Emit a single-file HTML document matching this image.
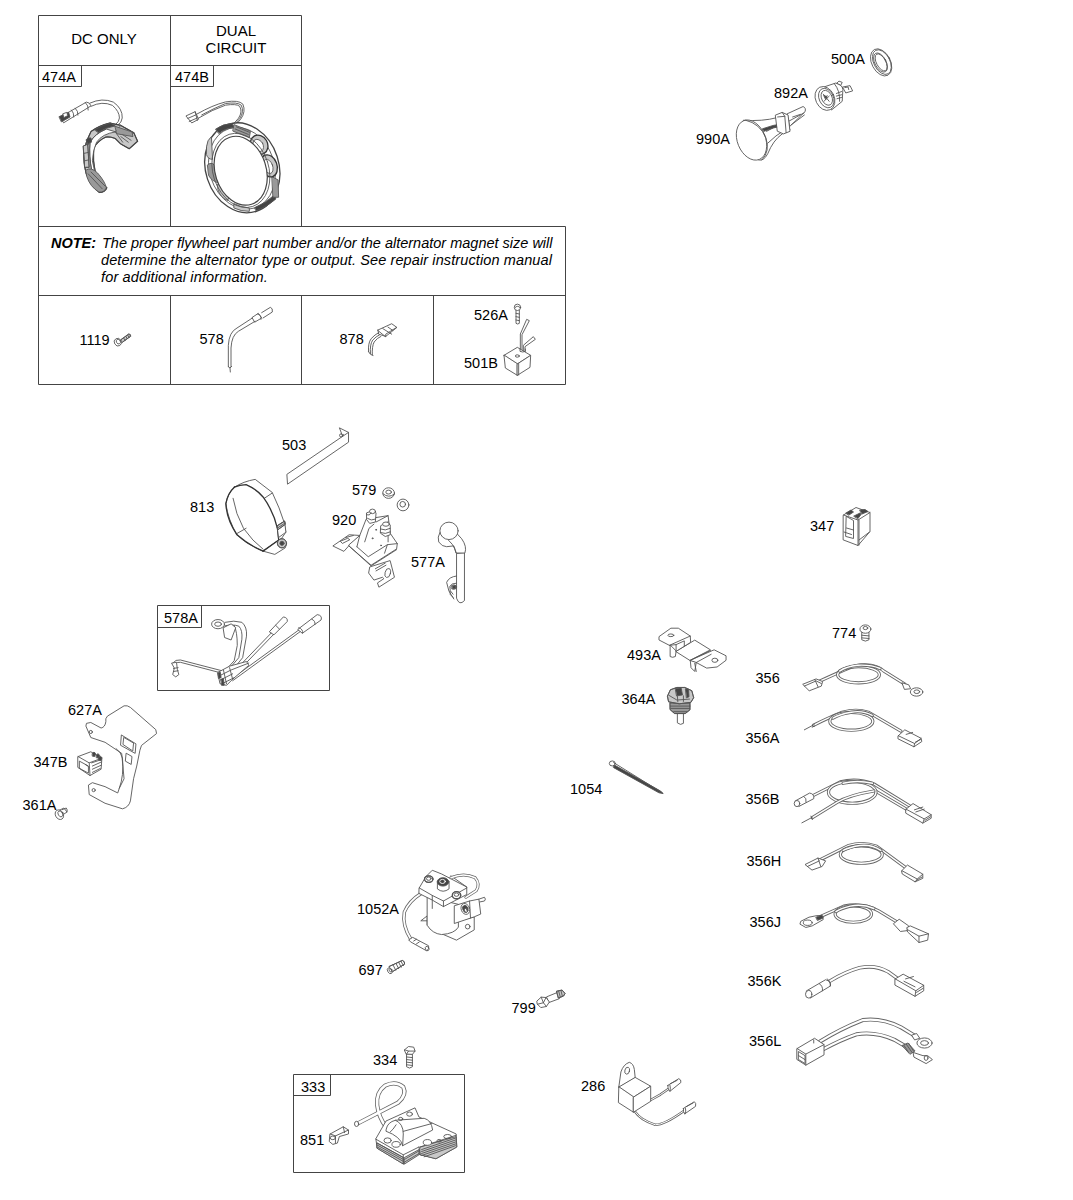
<!DOCTYPE html>
<html><head><meta charset="utf-8"><style>
html,body{margin:0;padding:0;background:#fff;}
svg{display:block;}
text{font-family:"Liberation Sans",sans-serif;fill:#000;}
.l{font-size:14.5px;}
.b{fill:none;stroke:#444;stroke-width:1;}
.d,.f,.k,.g,.h{stroke:#555;stroke-width:0.9;stroke-linejoin:round;stroke-linecap:round;vector-effect:non-scaling-stroke;}
.d{fill:none;}
.f{fill:#fff;}
.k{fill:#444;}
.g{fill:#999;}
.h{fill:#c8c8c8;}
.wo{fill:none;stroke:#666;stroke-width:3.2;stroke-linecap:round;stroke-linejoin:round;vector-effect:non-scaling-stroke;}
.wi{fill:none;stroke:#fff;stroke-width:1.4;stroke-linecap:round;stroke-linejoin:round;vector-effect:non-scaling-stroke;}
</style></head><body>
<svg width="1073" height="1200" viewBox="0 0 1073 1200">
<g id="table">
<path class="b" d="M38.5 15.5H301.5V226.5M38.5 15.5V384.5H565.5V226.5H38.5M170.5 15.5V226.5M38.5 65.5H301.5M38.5 295.5H565.5M170.5 295.5V384.5M301.5 295.5V384.5M433.5 295.5V384.5M38.5 86.5H81.5V65.5M170.5 86.5H213.5V65.5"/>
<text x="104" y="44" font-size="15" text-anchor="middle">DC ONLY</text>
<text x="236" y="36" font-size="15" text-anchor="middle">DUAL</text>
<text x="236" y="52.5" font-size="15" text-anchor="middle">CIRCUIT</text>
<text class="l" x="42" y="82">474A</text>
<text class="l" x="175" y="81.5">474B</text>
<text x="51" y="247.5" font-size="14.5" font-style="italic" font-weight="bold">NOTE:</text>
<text x="102" y="247.5" font-size="14.5" font-style="italic">The proper flywheel part number and/or the alternator magnet size will</text>
<text x="101" y="264.5" font-size="14.5" font-style="italic" letter-spacing="0.11">determine the alternator type or output. See repair instruction manual</text>
<text x="101" y="281.5" font-size="14.5" font-style="italic" letter-spacing="0.15">for additional information.</text>
<text class="l" x="79.5" y="345">1119</text>
<text class="l" x="199.5" y="343.5">578</text>
<text class="l" x="339.5" y="343.5">878</text>
<text class="l" x="474" y="320">526A</text>
<text class="l" x="464" y="368">501B</text>
</g>
<g id="labels">
<text class="l" x="831" y="64">500A</text>
<text class="l" x="774" y="97.5">892A</text>
<text class="l" x="696" y="143.5">990A</text>
<text class="l" x="282" y="449.5">503</text>
<text class="l" x="190" y="512">813</text>
<text class="l" x="352" y="494.5">579</text>
<text class="l" x="332" y="525">920</text>
<text class="l" x="411" y="566.5">577A</text>
<text class="l" x="164" y="623">578A</text>
<text class="l" x="68" y="714.5">627A</text>
<text class="l" x="33.5" y="767">347B</text>
<text class="l" x="22.5" y="810">361A</text>
<text class="l" x="810" y="531">347</text>
<text class="l" x="832" y="637.5">774</text>
<text class="l" x="627" y="660">493A</text>
<text class="l" x="755.5" y="682.5">356</text>
<text class="l" x="621.5" y="704">364A</text>
<text class="l" x="745.5" y="743">356A</text>
<text class="l" x="570" y="793.5">1054</text>
<text class="l" x="745.5" y="804">356B</text>
<text class="l" x="746.5" y="865.5">356H</text>
<text class="l" x="749.5" y="926.5">356J</text>
<text class="l" x="747.5" y="985.5">356K</text>
<text class="l" x="749" y="1045.5">356L</text>
<text class="l" x="357" y="914">1052A</text>
<text class="l" x="358.5" y="974.5">697</text>
<text class="l" x="511.5" y="1013">799</text>
<text class="l" x="373" y="1065">334</text>
<text class="l" x="301" y="1091.5">333</text>
<text class="l" x="300" y="1145">851</text>
<text class="l" x="581" y="1090.5">286</text>
</g>
<g id="boxes">
<path class="b" d="M157.5 605.5H329.5V690.5H157.5ZM157.5 627.5H201.5V605.5"/>
<path class="b" d="M293.5 1074.5H464.5V1172.5H293.5ZM293.5 1095.5H330.5V1074.5"/>
</g>
<g transform="translate(50,90) scale(0.0932)">
<path class="d" d="M430 140 Q560 80 680 130 Q780 200 775 300 Q770 350 730 375 M440 175 Q560 115 670 165 Q745 230 745 300 Q740 340 710 365"/>
<path class="f" d="M110 290 L390 130 Q425 130 440 170 L150 350 Z"/>
<path class="d" d="M270 195 Q305 225 300 270 M380 135 Q415 165 410 215 M230 215 Q260 245 255 290"/>
<path class="k" d="M100 285 L200 240 L215 290 L125 340 Z"/>
<path class="f" d="M140 255 L180 240 L190 275 L150 295 Z" style="fill:#fff"/>
<path class="h" d="M640 355 Q520 385 440 445 Q395 530 365 640 Q360 800 390 900 Q440 1030 530 1100 Q590 1100 610 1050 Q540 1000 490 900 Q455 760 470 620 Q520 540 600 505 Q650 500 700 520 L760 580 L850 630 L940 550 L900 460 L760 380 Z"/>
<path class="d" d="M640 355 Q520 385 440 445 Q395 530 365 640 Q360 800 390 900 Q440 1030 530 1100 Q590 1100 610 1050 Q540 1000 490 900 Q455 760 470 620 Q520 540 600 505 Q650 500 700 520 L760 580 L850 630 L940 550 L900 460 L760 380 Z" style="stroke:#444;stroke-width:1.2"/>
<path class="f" d="M600 420 Q480 470 430 560 Q415 700 450 880 Q490 970 560 1020 L520 960 Q470 880 455 760 Q460 640 500 560 Q560 470 700 450 Z"/>
<path class="d" d="M600 420 Q480 470 430 560 Q415 700 450 880 Q490 970 560 1020 M700 450 L760 380 M700 450 L780 560 M760 470 L900 460"/>
<path class="k" d="M480 425 Q570 370 650 355 L700 385 Q600 400 520 455 Z"/>
<path class="g" d="M700 390 L880 450 L890 500 L720 470 Z"/>
<path class="d" d="M760 500 L840 560 M780 480 L870 540"/>
<path class="g" d="M385 860 Q440 820 510 890 Q590 980 605 1050 Q580 1100 525 1095 Q430 1040 395 930 Z"/>
<path class="d" d="M410 900 L560 1060 M440 880 L590 1030"/>
<path class="h" d="M360 600 L405 580 L420 830 L375 830 Z"/>
<path class="d" d="M360 600 L405 580 L420 830 L375 830 Z M365 680 L410 670 M370 760 L415 750"/>
<path class="k" d="M390 530 Q410 505 440 515 L445 560 Q420 560 405 590 Z"/>
</g>
<g transform="translate(180,90) scale(0.10837)">
<path class="d" d="M160 220 Q300 140 420 110 Q540 90 580 130 Q610 200 560 270 Q530 310 500 330 M170 260 Q300 180 420 140 Q520 125 550 150 Q580 200 540 260 Q510 300 480 320 M200 230 Q320 165 420 125 Q530 110 565 140 Q595 200 550 265 Q520 305 490 325"/>
<path class="f" d="M58 238 L140 200 L172 270 L112 302 Z"/>
<path class="d" d="M72 262 L150 228 M140 200 L160 280 M85 290 L160 258"/>
<ellipse class="f" cx="575" cy="718" rx="338" ry="422" transform="rotate(-18 575 718)" style="stroke:#444;stroke-width:1.3"/>
<ellipse class="d" cx="572" cy="722" rx="300" ry="385" transform="rotate(-18 572 722)"/>
<path class="h" d="M245 520 Q250 460 290 430 L300 640 Q260 640 245 600 Z"/>
<path class="g" d="M255 690 Q300 650 340 720 L360 860 Q290 840 265 790 Z"/>
<path class="h" d="M350 870 Q400 880 460 960 L440 1020 Q370 990 350 920 Z"/>
<path class="h" d="M500 1050 Q560 1080 640 1090 L640 1120 Q560 1120 500 1090 Z"/>
<path class="k" d="M690 1085 Q790 1045 870 970 L885 1005 Q810 1075 705 1115 Z"/>
<path class="g" d="M850 800 L905 830 L910 990 L860 990 Z"/>
<ellipse class="h" cx="820" cy="700" rx="75" ry="105" transform="rotate(-20 820 700)" style="stroke:#333;stroke-width:1.3"/>
<ellipse class="f" cx="815" cy="705" rx="40" ry="68" transform="rotate(-20 815 705)"/>
<ellipse class="h" cx="730" cy="505" rx="78" ry="92" transform="rotate(-30 730 505)" style="stroke:#333;stroke-width:1.3"/>
<ellipse class="f" cx="722" cy="512" rx="45" ry="60" transform="rotate(-30 722 512)"/>
<path class="k" d="M330 360 Q400 310 480 310 L500 345 Q420 350 360 400 Z"/>
<path class="g" d="M500 320 L650 380 L640 440 L490 380 Z"/>
<path class="d" d="M520 340 L640 390 M510 360 L630 410"/>
<ellipse class="f" cx="560" cy="745" rx="235" ry="325" transform="rotate(-18 560 745)" style="stroke:#444;stroke-width:1.2"/>
<ellipse class="d" cx="562" cy="742" rx="258" ry="350" transform="rotate(-18 562 742)"/>
</g>
<g transform="translate(105,325) scale(0.03727)">
<path class="h" d="M420 400 L640 240 L690 300 L470 460 Z"/>
<path class="d" d="M420 400 L640 240 Q700 240 690 300 L470 460 M500 350 L540 410 M560 310 L600 370 M610 275 L650 335"/>
<ellipse class="f" cx="345" cy="460" rx="95" ry="105" transform="rotate(-30 345 460)"/>
<ellipse class="d" cx="360" cy="445" rx="55" ry="65" transform="rotate(-30 360 445)"/>
</g>
<g transform="translate(215,300) scale(0.06667)">
<path class="d" d="M200 1000 L200 680 Q210 480 330 420 L560 270 M240 1000 L240 720 Q250 530 350 470 L600 320 M200 1000 L225 1020 L250 995 M225 1020 L230 1080"/>
<path class="d" d="M560 260 L650 200 L700 270 L600 330 Z M640 210 Q700 220 690 290"/>
<path class="d" d="M700 190 L830 110 Q870 120 860 180 L720 270"/>
</g>
<g transform="translate(360,320) scale(0.03728)">
<path class="d" d="M230 850 Q210 620 300 500 Q400 390 500 340 M280 900 Q260 660 340 540 Q430 440 520 400 M330 940 Q320 700 380 590 Q460 480 560 440 M230 850 L280 920 L350 950"/>
<path class="f" d="M480 270 L850 100 L990 200 L690 440 Z"/>
<path class="d" d="M610 230 L850 380 M690 440 L690 380 L980 200 M480 270 L500 380 L690 440 M750 190 L880 280"/>
</g>
<g transform="translate(500,300) scale(0.06667)">
<path class="f" d="M240 150 L240 350 Q265 370 290 350 L290 150 Z"/>
<path class="d" d="M240 200 L290 210 M240 250 L290 260 M240 300 L290 310"/>
<circle class="f" cx="262" cy="110" r="48"/>
<path class="d" d="M225 115 Q262 70 300 115"/>
<path class="d" d="M305 760 L305 510 L400 290 L440 310 L330 520 L330 760 M350 780 L350 680 L500 550 L530 590 L375 700 L375 780"/>
<path class="f" d="M60 830 L260 710 L460 830 L260 960 Z"/>
<path class="f" d="M60 830 L80 1020 L260 1130 L260 960 Z"/>
<path class="f" d="M260 960 L460 830 L450 1010 L260 1130 Z"/>
<path class="d" d="M280 955 L280 1125"/>
<ellipse class="d" cx="260" cy="840" rx="30" ry="18"/>
<path class="d" d="M300 735 L300 770 Q340 790 380 770 L380 735"/>
</g>
<g transform="translate(730,70) scale(0.13048)">
<path class="f" d="M440 335 L560 280 Q585 290 575 320 L460 430 Z"/>
<path class="d" d="M455 390 L565 330 M470 420 L570 345 M480 360 L540 340"/>
<path class="f" d="M105 385 Q250 395 360 365 L440 400 L460 460 L400 490 Q330 540 290 640 Q260 700 220 690 Z"/>
<path class="k" d="M250 450 Q330 420 410 410 L415 425 Q330 440 260 470 Z"/>
<path class="d" d="M290 560 Q350 500 420 460 M280 470 Q320 440 400 420"/>
<path class="f" d="M350 345 L400 325 L445 345 L460 470 L410 490 L365 470 Z"/>
<path class="d" d="M400 325 L420 355 L430 480 M365 360 L420 355"/>
<ellipse class="f" cx="165" cy="537" rx="108" ry="160" transform="rotate(-22 165 537)"/>
<path class="d" d="M120 385 Q230 410 275 520 Q310 620 245 690"/>
<path class="f" d="M690 140 L810 100 Q860 110 865 150 L860 240 L780 305 Z"/>
<path class="d" d="M800 105 Q845 160 840 240 M815 180 L855 165 M815 200 L855 190 M820 220 L855 210"/>
<path class="f" d="M820 100 L835 85 L860 95 L850 115 Z M865 130 L920 120 L940 160 L890 175 Z"/>
<path class="d" d="M880 135 L905 130 L910 150"/>
<ellipse class="f" cx="728" cy="218" rx="72" ry="95" transform="rotate(-25 728 218)"/>
<ellipse class="d" cx="738" cy="215" rx="55" ry="78" transform="rotate(-25 738 215)"/>
<ellipse class="d" cx="742" cy="213" rx="40" ry="60" transform="rotate(-25 742 213)"/>
<path class="d" d="M715 185 L760 240 M730 210 L745 195 M720 240 L760 200"/>
<path class="k" d="M720 195 L745 205 L735 225 Z"/>
</g>
<g transform="translate(820,40) scale(0.07457)">
<ellipse class="f" cx="820" cy="300" rx="125" ry="195" transform="rotate(-28 820 300)"/>
<ellipse class="d" cx="812" cy="302" rx="75" ry="140" transform="rotate(-28 812 302)"/>
<ellipse class="d" cx="830" cy="296" rx="108" ry="178" transform="rotate(-28 830 296)"/>
<ellipse class="d" cx="820" cy="300" rx="62" ry="125" transform="rotate(-28 820 300)"/>
</g>
<g transform="translate(220,420) scale(0.13048)">
<path class="f" d="M515 415 L940 125 L915 60 L985 95 L985 170 L520 490 Z"/>
<path class="d" d="M940 125 L985 95 M940 125 L945 110"/>
<circle class="d" cx="928" cy="118" r="12"/>
<path class="f" d="M110 515 Q180 470 270 455 L400 555 Q460 680 490 780 L505 860 L470 910 L510 950 L500 980 L420 1030 L330 1005 Q200 950 130 880 Q60 760 45 640 Q60 560 110 515 Z"/>
<path class="d" d="M100 600 Q120 720 180 830 Q250 930 330 990 M340 600 L400 560 M130 870 L200 830 M330 1005 L420 940 L470 910"/>
<path class="d" d="M110 515 Q60 560 45 640 Q50 760 130 880 Q220 960 330 1005" style="stroke:#333;stroke-width:1.3"/>
<path class="d" d="M110 515 Q150 495 200 495 Q280 530 330 590 Q410 700 440 830 L450 920 L330 1005" style="stroke:#333;stroke-width:1.3"/>
<path class="f" d="M440 810 L495 775 L505 860 L450 900 Z"/>
<path class="h" d="M440 810 L495 775 L500 800 L445 840 Z"/>
<path class="d" d="M440 810 L495 775 L500 800 L445 840 Z M445 825 L498 790"/>
<circle class="h" cx="475" cy="945" r="35"/>
<circle class="d" cx="475" cy="945" r="35"/>
<circle class="k" cx="475" cy="945" r="16"/>
</g>
<g transform="translate(325,470) scale(0.1398)">
<ellipse class="f" cx="455" cy="165" rx="42" ry="38"/>
<ellipse class="d" cx="455" cy="158" rx="20" ry="14"/>
<path class="d" d="M415 170 Q455 205 497 172"/>
<ellipse class="f" cx="558" cy="250" rx="42" ry="42"/>
<ellipse class="d" cx="556" cy="245" rx="20" ry="20"/>
</g>
<g transform="translate(330,505) scale(0.07085)">
<path class="f" d="M560 880 L545 960 L620 1060 L740 1020 L760 1040 L670 1100 L690 1160 L910 1020 L850 790 Z"/>
<path class="d" d="M640 900 L780 820 M650 930 L790 850"/>
<ellipse class="d" cx="815" cy="960" rx="38" ry="65" transform="rotate(15 815 960)"/>
<path class="f" d="M45 575 L270 420 L420 430 L420 440 L280 560 L200 650 Z"/>
<path class="d" d="M150 510 L250 470 L280 490 L180 540 Z M220 460 L330 430"/>
<path class="f" d="M270 560 L420 430 L510 200 L820 150 L830 230 L850 400 L950 545 L940 620 L580 850 L270 580 Z"/>
<path class="d" d="M380 590 L540 730 L810 560 L950 545 M420 430 L380 590 M270 580 L580 860 L940 630 M490 520 L550 330 L620 270 M650 240 L820 150 M820 230 L820 520 M810 560 L770 680"/>
<circle class="d" cx="650" cy="350" r="7"/><circle class="d" cx="600" cy="470" r="7"/><circle class="d" cx="720" cy="570" r="7"/>
<path class="f" d="M520 110 L600 80 L650 110 L640 240 L560 260 L520 210 Z"/>
<ellipse class="f" cx="600" cy="90" rx="42" ry="32"/>
<path class="d" d="M530 190 Q580 230 640 200 M520 140 Q560 160 580 110"/>
<path class="f" d="M720 290 L790 250 L850 280 L850 420 L780 445 L715 400 Z"/>
<ellipse class="f" cx="790" cy="270" rx="48" ry="30"/>
<path class="d" d="M715 340 Q780 370 850 330 M715 390 Q780 420 850 380"/>
</g>
<g transform="translate(430,515) scale(0.07923)">
<path class="f" d="M335 490 L335 1050 Q370 1150 435 1080 L435 480 Z"/>
<path class="f" d="M125 220 Q90 280 110 340 Q150 400 210 400 L300 390 L330 480 L440 480 Q470 400 400 300 L345 240 Z"/>
<path class="d" d="M235 320 Q290 370 310 420 L330 480"/>
<ellipse class="f" cx="240" cy="200" rx="115" ry="110"/>
<path class="d" d="M335 770 Q240 780 210 850 Q220 960 300 1060 M335 860 Q270 860 250 900 Q240 960 290 1000 M250 960 Q240 1010 290 1040"/>
<ellipse class="d" cx="300" cy="910" rx="35" ry="28"/>
<path class="k" d="M285 895 L320 890 L325 925 L290 930 Z"/>
</g>
<g transform="translate(165,610) scale(0.15377)">
<path class="d" d="M390 80 Q450 65 500 80 Q535 110 530 170 L505 310 L440 390 M380 105 Q440 90 480 105 Q505 130 500 190 L480 310 L420 380 M450 100 Q470 140 470 230 L450 330 L400 385"/>
<path class="f" d="M380 115 L430 90 L460 115 L430 195 L390 180 Z"/>
<ellipse class="f" cx="345" cy="92" rx="42" ry="30"/>
<ellipse class="d" cx="345" cy="92" rx="22" ry="14"/>
<path class="d" d="M50 345 Q70 320 100 325 L370 395 M60 355 Q80 335 100 340 L360 408"/>
<path class="f" d="M45 345 L75 340 L80 385 L90 420 L70 435 L50 420 L60 380 Z"/>
<path class="d" d="M55 380 L85 375 M55 400 L85 395"/>
<path class="d" d="M440 410 L700 140 M450 425 L710 155 M430 450 L870 130 M440 460 L880 140"/>
<path class="f" d="M680 140 L770 45 Q800 50 795 75 L710 160 Z"/>
<path class="d" d="M720 100 L745 125"/>
<path class="f" d="M865 125 L990 30 Q1025 35 1015 65 L895 150 Z"/>
<path class="d" d="M870 115 Q900 125 895 150 M955 60 Q980 70 975 95"/>
<path class="f" d="M345 405 L420 365 L530 335 L545 360 L440 450 L400 490 L360 480 Z"/>
<path class="d" d="M350 430 L430 390 L545 345 M360 455 L440 415 M370 480 L450 440 M380 390 L400 480 M420 375 L440 450"/>
<path class="k" d="M345 410 L360 405 L365 440 L350 445 Z M365 450 L380 445 L385 490 L370 490 Z"/>
</g>
<g transform="translate(10,690) scale(0.15843)">
<path class="f" d="M485 210 L510 205 L575 240 Q600 235 605 200 Q600 180 615 165 L720 100 Q740 95 760 110 L920 250 L925 275 L830 350 L820 380 L800 480 L780 560 L760 700 Q750 740 710 750 L600 715 L500 660 L495 600 L520 585 L600 610 L680 650 L690 620 L720 560 L705 400 L600 330 L510 300 L480 230 Z"/>
<path class="d" d="M690 620 Q720 540 710 430 Q700 390 670 370"/>
<path class="d" d="M705 285 L795 340 L790 400 L700 350 Z M720 300 L780 335 L775 385 L715 345 Z"/>
<path class="d" d="M735 400 L770 420 L765 470 L730 450 Z"/>
<circle class="d" cx="510" cy="265" r="10"/>
<circle class="d" cx="528" cy="632" r="10"/>
<path class="f" d="M430 420 L510 390 L580 430 L575 500 L505 540 L430 490 Z"/>
<path class="d" d="M430 420 L500 460 L580 430 M500 460 L505 540 M440 450 L495 480 L495 525 L440 495 Z"/>
<path class="d" d="M475 470 L490 480 M515 460 L575 440"/>
<path class="k" d="M520 400 L530 392 L540 400 L535 420 L522 418 Z M545 410 L555 402 L565 410 L560 430 L547 428 Z M560 425 L570 418 L580 426 L575 445 L563 443 Z"/>
<path class="d" d="M520 480 L575 455 M520 500 L575 475 M520 520 L570 495"/>
</g>
<g transform="translate(10,690) scale(0.15843)">
<path class="f" d="M310 760 L340 745 L360 770 L330 790 Z"/>
<ellipse class="f" cx="312" cy="787" rx="25" ry="32" transform="rotate(-30 312 787)"/>
<ellipse class="d" cx="318" cy="782" rx="14" ry="20" transform="rotate(-30 318 782)"/>
<path class="d" d="M330 755 L355 745 Q365 755 360 770"/>
</g>
<g transform="translate(830,495) scale(0.05)">
<path class="f" d="M270 400 L520 250 L800 350 L800 730 L560 1010 L270 900 Z"/>
<path class="d" d="M270 400 L560 500 L800 350 M560 500 L560 1010 M580 500 L580 1000 M580 900 L790 740"/>
<path class="d" d="M330 430 L470 510 L470 870 L320 830 Z M330 660 L470 700 M280 740 L430 790"/>
<path class="k" d="M320 360 L420 300 L470 340 L380 400 Z M480 420 L600 360 L620 390 L560 470 Z M600 300 L700 290 L760 330 L640 380 Z"/>
</g>
<g transform="translate(650,620) scale(0.07457)">
<path class="f" d="M270 340 L270 490 Q300 510 340 490 L350 420 Z"/>
<path class="f" d="M540 540 L550 640 L600 690 L620 570 Z"/>
<path class="f" d="M540 540 L860 400 L1020 480 L1020 540 L900 630 L760 645 L620 570 Z"/>
<path class="f" d="M350 420 L600 270 L810 400 L540 540 Z"/>
<path class="f" d="M125 220 L280 110 L380 110 L540 215 L545 300 L350 420 L350 330 L260 340 L125 270 Z"/>
<path class="d" d="M260 340 L540 215 M350 330 L460 280 L460 350 M540 540 L810 410 M620 570 L820 460 M600 580 L620 690"/>
<ellipse class="d" cx="280" cy="205" rx="40" ry="18"/>
<ellipse class="d" cx="870" cy="540" rx="40" ry="28"/>
</g>
<g transform="translate(655,680) scale(0.0466)">
<path class="f" d="M480 720 L480 920 Q550 980 610 930 L610 720 Z"/>
<path class="g" d="M330 490 L750 490 L750 640 L650 720 L420 720 L330 640 Z"/>
<path class="d" d="M330 490 L750 490 L750 640 L650 720 L420 720 L330 640 Z M330 560 L750 560 M340 610 L740 610 M400 680 L680 680"/>
<path class="h" d="M270 340 L330 210 L470 160 L640 160 L790 230 L830 380 L770 480 L520 510 L300 470 Z"/>
<path class="d" d="M270 340 L330 210 L470 160 L640 160 L790 230 L830 380 L770 480 L520 510 L300 470 Z"/>
<path class="k" d="M440 180 L560 170 L590 320 L470 340 Z M660 190 L720 200 L730 360 L680 380 Z"/>
<path class="d" d="M300 330 L470 430 L740 410 M480 340 L490 470 M610 340 L610 460"/>
</g>
<g transform="translate(560,610) scale(0.16769)">
<ellipse class="f" cx="312" cy="915" rx="18" ry="15"/>
<path class="k" d="M325 925 L600 1080 L615 1095 L590 1090 L320 940 Z"/>
<path class="d" d="M320 910 L610 1090"/>
</g>
<g transform="translate(790,615) scale(0.13048)">
<path class="f" d="M550 130 L550 190 Q578 210 605 190 L605 130 Z"/>
<path class="d" d="M550 155 L605 160 M550 175 L605 180"/>
<ellipse class="f" cx="578" cy="108" rx="42" ry="32"/>
<ellipse class="d" cx="578" cy="100" rx="18" ry="12"/>
<g id="w356">
<path class="wo" d="M210 515 Q330 460 420 420 Q520 370 620 385 Q680 395 720 430 L880 530"/>
<path class="wi" d="M210 515 Q330 460 420 420 Q520 370 620 385 Q680 395 720 430 L880 530"/>
<ellipse class="wo" cx="525" cy="458" rx="160" ry="62"/>
<ellipse class="wi" cx="525" cy="458" rx="160" ry="62"/>
<path class="wo" d="M690 410 Q620 380 520 385 Q430 395 380 430"/><path class="wi" d="M690 410 Q620 380 520 385 Q430 395 380 430"/>
<path class="f" d="M100 530 L200 490 L250 510 L240 545 L150 580 Z"/>
<path class="d" d="M110 545 L200 505 L240 525 M190 495 L215 550"/>
<path class="f" d="M860 520 L910 535 L925 565 L880 570 Z"/>
<ellipse class="f" cx="970" cy="590" rx="48" ry="32"/>
<ellipse class="d" cx="972" cy="588" rx="22" ry="14"/>
</g>
<path class="wo" d="M180 845 Q300 785 400 745 Q510 715 600 745 L850 890"/>
<path class="wi" d="M180 845 Q300 785 400 745 Q510 715 600 745 L850 890"/>
<ellipse class="wo" cx="470" cy="815" rx="165" ry="68"/>
<ellipse class="wi" cx="470" cy="815" rx="165" ry="68"/>
<path class="wo" d="M630 770 Q560 730 470 745 Q380 760 330 790"/><path class="wi" d="M630 770 Q560 730 470 745 Q380 760 330 790"/>
<path class="d" d="M110 880 L185 840 M170 860 L190 850"/>
<path class="f" d="M830 925 L880 880 L1005 945 L1010 970 L950 1010 L830 950 Z"/>
<path class="d" d="M830 925 L955 985 L1005 945 M955 985 L950 1010 M890 915 L940 900 M960 975 L1000 955"/>
</g>
<g transform="translate(790,770) scale(0.1398)">
<path class="wo" d="M150 190 L360 85 Q480 55 600 100 L870 265"/><path class="wi" d="M150 190 L360 85 Q480 55 600 100 L870 265"/>
<path class="wo" d="M610 150 L850 290"/><path class="wi" d="M610 150 L850 290"/>
<ellipse class="wo" cx="445" cy="160" rx="170" ry="78"/><ellipse class="wi" cx="445" cy="160" rx="170" ry="78"/>
<path class="wo" d="M160 340 L340 230 Q420 180 600 150"/><path class="wi" d="M160 340 L340 230 Q420 180 600 150"/>
<path class="wo" d="M590 95 Q480 70 380 95"/><path class="wi" d="M590 95 Q480 70 380 95"/>
<path class="d" d="M85 378 L160 338 M150 330 L160 355"/>
<path class="f" d="M40 220 L140 165 Q175 170 170 205 L65 260 Z"/>
<ellipse class="f" cx="50" cy="240" rx="20" ry="22"/>
<path class="d" d="M100 190 Q120 200 115 230"/>
<path class="f" d="M830 280 L880 240 L1010 320 L1010 345 L950 380 L830 310 Z"/>
<path class="d" d="M830 280 L960 350 L1010 320 M960 350 L950 380 M890 285 L950 265 M900 300 L960 280 M965 360 L1005 335"/>
</g>
<g transform="translate(790,770) scale(0.1398)">
<path class="wo" d="M220 640 L420 540 Q520 510 620 545 L830 700"/><path class="wi" d="M220 640 L420 540 Q520 510 620 545 L830 700"/>
<ellipse class="wo" cx="510" cy="605" rx="150" ry="62"/><ellipse class="wi" cx="510" cy="605" rx="150" ry="62"/>
<path class="wo" d="M650 575 Q580 530 500 540 Q430 550 380 575"/><path class="wi" d="M650 575 Q580 530 500 540 Q430 550 380 575"/>
<path class="f" d="M110 675 L200 630 L255 650 L230 690 L160 715 Z"/>
<path class="d" d="M125 690 L210 650 M200 630 L220 690"/>
<path class="f" d="M800 720 L840 680 L950 745 L950 775 L895 800 L805 745 Z"/>
<path class="d" d="M800 720 L910 780 L950 745 M910 780 L895 800 M905 790 Q925 775 945 765"/>
</g>
<g transform="translate(790,880) scale(0.15826)">
<path class="wo" d="M190 232 L340 165 Q460 140 560 195 L680 268"/><path class="wi" d="M190 232 L340 165 Q460 140 560 195 L680 268"/>
<ellipse class="wo" cx="400" cy="215" rx="115" ry="52"/><ellipse class="wi" cx="400" cy="215" rx="115" ry="52"/>
<path class="wo" d="M530 180 Q460 150 380 165 Q320 180 290 200"/><path class="wi" d="M530 180 Q460 150 380 165 Q320 180 290 200"/>
<path class="f" d="M70 260 L120 235 L170 225 L205 225 L210 250 L140 290 L100 300 L65 280 Z"/>
<ellipse class="d" cx="112" cy="270" rx="28" ry="17"/>
<path class="k" d="M165 235 L200 222 L210 240 L175 255 Z"/>
<path class="f" d="M655 275 L690 248 L750 290 L740 320 L700 325 Z"/>
<path class="f" d="M740 300 L760 290 L875 340 L870 380 L815 395 L745 330 Z"/>
<path class="d" d="M745 315 L815 355 L875 340 M815 355 L815 395"/>
</g>
<g transform="translate(790,880) scale(0.15826)">
<path class="wo" d="M250 640 Q350 580 440 555 Q540 535 620 580 L690 630" style="stroke-width:3.6"/><path class="wi" d="M250 640 Q350 580 440 555 Q540 535 620 580 L690 630" style="stroke-width:2"/>
<path class="f" d="M105 700 L225 630 Q260 640 255 670 L130 745 Z"/>
<ellipse class="f" cx="118" cy="722" rx="20" ry="24"/>
<path class="d" d="M185 655 Q210 670 205 700 M235 625 Q260 640 255 670"/>
<path class="f" d="M665 625 L715 595 L845 665 L845 700 L790 735 L665 665 Z"/>
<path class="d" d="M665 625 L795 700 L845 665 M795 700 L790 735 M720 640 L790 675 M730 625 L780 610 M800 710 L840 685"/>
</g>
<g transform="translate(790,880) scale(0.15826)">
<path class="wo" d="M190 1020 Q320 940 460 885 Q580 870 700 930 L790 985" style="stroke-width:4"/><path class="wi" d="M190 1020 Q320 940 460 885 Q580 870 700 930 L790 985" style="stroke-width:2.2"/>
<path class="wo" d="M210 1070 Q320 1010 420 975 Q540 955 660 1010 L730 1050" style="stroke-width:4"/><path class="wi" d="M210 1070 Q320 1010 420 975 Q540 955 660 1010 L730 1050" style="stroke-width:2.2"/>
<path class="f" d="M770 980 L800 970 L820 1000 L790 1010 Z"/>
<ellipse class="f" cx="850" cy="1030" rx="48" ry="32"/>
<ellipse class="d" cx="850" cy="1030" rx="25" ry="15"/>
<path class="g" d="M710 1045 L745 1030 L790 1080 L760 1100 Z"/>
<path class="d" d="M720 1045 L750 1090 M735 1038 L770 1088 M750 1032 L780 1080"/>
<path class="f" d="M780 1090 L840 1110 L870 1110 L900 1135 L860 1160 L785 1120 Z"/>
<ellipse class="d" cx="860" cy="1125" rx="12" ry="15"/>
<path class="f" d="M45 1065 L155 1000 L215 1040 L215 1105 L100 1170 L45 1135 Z"/>
<path class="d" d="M45 1065 L100 1100 L215 1040 M100 1100 L100 1170 M55 1085 L95 1110 L95 1160 L55 1135 Z M55 1110 L95 1135 M150 1010 L150 1030"/>
</g>
<g transform="translate(395,860) scale(0.0932)">
<path class="wo" d="M280 360 Q150 440 100 560 Q75 700 170 850" style="stroke-width:3.4"/><path class="wi" d="M280 360 Q150 440 100 560 Q75 700 170 850" style="stroke-width:1.8"/>
<path class="f" d="M150 855 L190 830 L360 920 Q375 950 340 975 L170 880 Z"/>
<ellipse class="d" cx="345" cy="950" rx="18" ry="25" transform="rotate(-30 345 950)"/>
<path class="d" d="M200 870 L230 850 M230 900 L260 880"/>
<path class="f" d="M280 650 L345 600 L345 700 L520 800 L660 860 L850 750 L850 610 L700 650 Z"/>
<circle class="d" cx="780" cy="715" r="25"/>
<path class="f" d="M345 400 L345 700 Q400 790 500 800 Q640 790 680 720 L680 480 Z"/>
<path class="f" d="M640 490 L800 440 L900 420 L920 580 L850 610 L640 680 Z"/>
<path class="d" d="M800 440 L810 620 M900 420 L960 400 Q980 420 960 440 L910 450"/>
<ellipse class="f" cx="755" cy="525" rx="45" ry="60" transform="rotate(-20 755 525)"/>
<ellipse class="k" cx="755" cy="525" rx="28" ry="40" transform="rotate(-20 755 525)"/>
<ellipse class="f" cx="760" cy="540" rx="14" ry="22" transform="rotate(-20 760 540)"/>
<path class="f" d="M260 300 L330 180 L400 110 L500 150 L770 290 L770 370 L520 500 L400 430 L260 360 Z"/>
<path class="d" d="M260 300 L400 380 L520 440 L770 300 M400 380 L400 520 M520 440 L520 500 M600 170 L770 290"/>
<path class="wo" d="M600 190 Q740 130 860 190 Q920 260 870 330 L760 400" style="stroke-width:3"/><path class="wi" d="M600 190 Q740 130 860 190 Q920 260 870 330 L760 400" style="stroke-width:1.5"/>
<path class="f" d="M455 230 L455 310 Q515 360 580 310 L580 230 Z"/>
<ellipse class="k" cx="515" cy="235" rx="62" ry="45"/>
<ellipse class="d" cx="510" cy="230" rx="30" ry="22" style="stroke:#fff"/>
<ellipse class="f" cx="362" cy="205" rx="45" ry="35"/>
<ellipse class="d" cx="362" cy="205" rx="45" ry="35" style="stroke-width:1.3"/><ellipse class="d" cx="362" cy="200" rx="25" ry="18"/>
<ellipse class="f" cx="660" cy="378" rx="45" ry="38"/>
<ellipse class="d" cx="660" cy="378" rx="45" ry="38" style="stroke-width:1.3"/><ellipse class="d" cx="660" cy="372" rx="25" ry="18"/>
</g>
<g transform="translate(380,950) scale(0.03728)">
<path class="f" d="M250 440 L600 280 Q670 300 660 380 L320 590 Z"/>
<path class="d" d="M250 440 L600 280 Q670 300 660 380 L320 590 M350 400 L420 540 M430 360 L500 500 M500 330 L570 460 M560 300 L630 420"/>
<ellipse class="f" cx="265" cy="555" rx="60" ry="85" transform="rotate(-30 265 555)"/>
<ellipse class="d" cx="280" cy="545" rx="30" ry="50" transform="rotate(-30 280 545)"/>
</g>
<g transform="translate(530,980) scale(0.03728)">
<path class="f" d="M450 450 L770 320 L790 500 L520 600 Z"/>
<path class="h" d="M720 300 L860 270 L940 360 L900 430 L770 480 Z"/>
<path class="d" d="M720 300 L860 270 L940 360 L900 430 L770 480 Z M770 300 L810 450 M830 285 L870 440"/>
<path class="f" d="M190 560 L300 460 L430 470 L520 590 L440 710 L290 740 L200 650 Z"/>
<path class="d" d="M300 460 L360 610 L440 710 M360 610 L200 650 M360 610 L430 470"/>
</g>
<g transform="translate(325,1040) scale(0.13048)">
<path class="f" d="M625 110 L625 205 Q648 225 670 205 L670 110 Z"/>
<path class="d" d="M625 130 L670 135 M625 150 L670 155 M625 170 L670 175 M625 190 L670 195"/>
<path class="f" d="M610 75 L640 50 L680 55 L690 85 L670 110 L625 108 Z"/>
<path class="d" d="M610 75 L640 85 L690 85 M640 85 L625 108"/>
<path class="wo" d="M250 640 L560 480 Q630 420 600 360 Q540 310 460 350 Q390 400 400 500 Q410 590 470 670" style="stroke-width:4.2"/>
<path class="wi" d="M250 640 L560 480 Q630 420 600 360 Q540 310 460 350 Q390 400 400 500 Q410 590 470 670" style="stroke-width:2.6"/>
<ellipse class="f" cx="242" cy="643" rx="16" ry="20"/>
<path class="f" d="M470 620 L690 520 L720 590 L1005 720 L1010 820 L850 910 L700 870 L600 950 L400 830 L390 760 Z"/>
<path class="h" d="M400 790 L600 900 L600 950 L400 830 Z"/>
<path class="h" d="M610 900 L720 840 L720 880 L610 950 Z"/>
<path class="h" d="M730 820 L1005 740 L1010 820 L850 910 L730 880 Z"/>
<path class="d" d="M390 760 L600 880 L720 820 M600 880 L600 950 M720 820 L730 880 M730 820 L1005 730"/>
<path class="d" d="M400 790 L600 900 M400 805 L600 915 M400 820 L600 930 M610 915 L720 850 M610 935 L720 870 M740 840 L1005 750 M740 855 L1005 765 M740 870 L1005 780 M740 885 L1005 795 M760 895 L1000 810"/>
<path class="f" d="M470 680 Q480 630 540 615 L760 600 Q815 615 825 690 L595 810 Q580 740 470 700 Z"/>
<path class="d" d="M540 615 Q600 640 600 720 L595 810 M600 700 L820 640 M545 650 Q520 690 500 705"/>
<ellipse class="d" cx="648" cy="568" rx="22" ry="16"/><ellipse class="d" cx="580" cy="605" rx="16" ry="12"/>
<ellipse class="f" cx="545" cy="800" rx="32" ry="22"/><ellipse class="f" cx="480" cy="770" rx="28" ry="20"/>
<ellipse class="f" cx="785" cy="785" rx="32" ry="22"/>
<ellipse class="d" cx="940" cy="740" rx="30" ry="16"/><ellipse class="d" cx="875" cy="772" rx="16" ry="10"/>
</g>
<g transform="translate(325,1040) scale(0.13048)">
<path class="f" d="M40 720 L140 665 L180 690 L180 720 L110 740 L95 790 L60 800 L35 780 Z"/>
<path class="d" d="M40 720 L80 735 L180 690 M80 735 L80 790 M140 665 L150 710"/>
<ellipse class="d" cx="60" cy="750" rx="20" ry="14"/>
</g>
<g transform="translate(610,1030) scale(0.0839)">
<path class="wo" d="M485 835 L600 770 L700 700" style="stroke-width:2.4"/><path class="wi" d="M485 835 L600 770 L700 700" style="stroke-width:1"/>
<path class="wo" d="M300 975 Q360 1070 540 1130 Q650 1130 880 965" style="stroke-width:2.4"/><path class="wi" d="M300 975 Q360 1070 540 1130 Q650 1130 880 965" style="stroke-width:1"/>
<path class="f" d="M690 660 L820 580 Q850 590 845 625 L715 730 Q690 720 690 660 Z"/>
<path class="d" d="M715 660 Q725 690 715 730 M720 640 L800 600"/>
<path class="f" d="M875 935 L1005 855 Q1030 870 1020 910 L890 1000 Q870 980 875 935 Z"/>
<path class="d" d="M900 935 Q910 965 895 1000 M905 915 L990 870"/>
<path class="f" d="M105 680 L130 500 Q160 410 230 385 Q280 400 290 470 L300 565 Z"/>
<ellipse class="d" cx="205" cy="485" rx="28" ry="42" transform="rotate(15 205 485)"/>
<path class="f" d="M105 680 L300 565 L485 670 L280 800 Z"/>
<path class="f" d="M105 680 L100 865 L280 980 L280 800 Z"/>
<path class="f" d="M280 800 L485 670 L485 850 L280 980 Z"/>
</g>
</svg>
</body></html>
